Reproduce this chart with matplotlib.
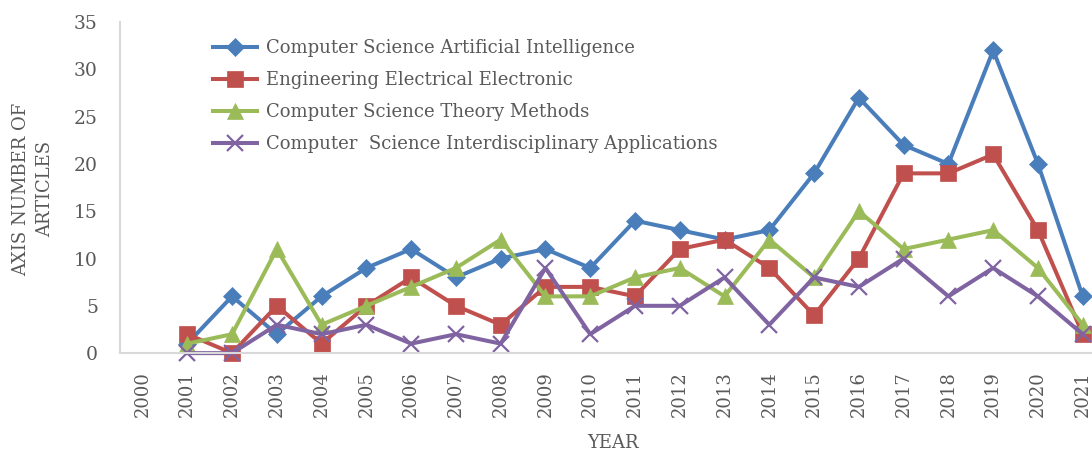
import matplotlib
matplotlib.use("Agg")
import matplotlib.pyplot as plt

years = [str(y) for y in range(2000, 2022)]
ai = [None, 1, 6, 2, 6, 9, 11, 8, 10, 11, 9, 14, 13, 12, 13, 19, 27, 22, 20, 32, 20, 6]
eee = [None, 2, 0, 5, 1, 5, 8, 5, 3, 7, 7, 6, 11, 12, 9, 4, 10, 19, 19, 21, 13, 2]
theory = [None, 1, 2, 11, 3, 5, 7, 9, 12, 6, 6, 8, 9, 6, 12, 8, 15, 11, 12, 13, 9, 3]
inter = [None, 0, 0, 3, 2, 3, 1, 2, 1, 9, 2, 5, 5, 8, 3, 8, 7, 10, 6, 9, 6, 2]

labels = ["Computer Science Artificial Intelligence",
          "Engineering Electrical Electronic",
          "Computer Science Theory Methods",
          "Computer  Science Interdisciplinary Applications"]
colors = ["#4A7EBB", "#C0504D", "#9BBB59", "#8064A2"]
markers = ["D", "s", "^", "x"]
msizes = [9, 11, 11, 11]

plt.rcParams['font.family'] = ['DejaVu Serif']
txt = "#595959"

fig = plt.figure(figsize=(10.92, 4.58), dpi=100)
ax = fig.add_axes([0.110, 0.229, 0.902, 0.723])

x = list(range(len(years)))
for vals, lab, c, m, ms in zip([ai, eee, theory, inter], labels, colors, markers, msizes):
    xs = [i for i, v in zip(x, vals) if v is not None]
    ys = [v for v in vals if v is not None]
    ax.plot(xs, ys, color=c, lw=2.9, marker=m, markersize=ms,
            markeredgewidth=1.6 if m == "x" else 0.5, markeredgecolor=c,
            label=lab, clip_on=False)

ax.set_xlim(-0.5, len(years) - 0.5)
ax.set_ylim(0, 35)
ax.set_yticks(range(0, 36, 5))
ax.set_xticks(x)
ax.set_xticklabels(years, rotation=90, fontsize=13, color=txt)
ax.tick_params(axis='y', labelsize=13.5, colors=txt, length=0, pad=16)
ax.tick_params(axis='x', length=0, pad=13)
for s in ["top", "right"]:
    ax.spines[s].set_visible(False)
for s in ["left", "bottom"]:
    ax.spines[s].set_color("#D9D9D9")
    ax.spines[s].set_linewidth(1.5)

ax.set_xlabel("YEAR", fontsize=13, color=txt, labelpad=12)
fig.text(0.030, 0.587, "AXIS NUMBER OF\nARTICLES", rotation=90, fontsize=13,
         color=txt, ha="center", va="center", linespacing=1.45)

leg = ax.legend(loc="upper left", bbox_to_anchor=(0.078, 0.998), frameon=False,
                fontsize=13, handlelength=2.45, handletextpad=0.45,
                labelspacing=0.78, labelcolor=txt)

fig.savefig("out.png", dpi=100)
